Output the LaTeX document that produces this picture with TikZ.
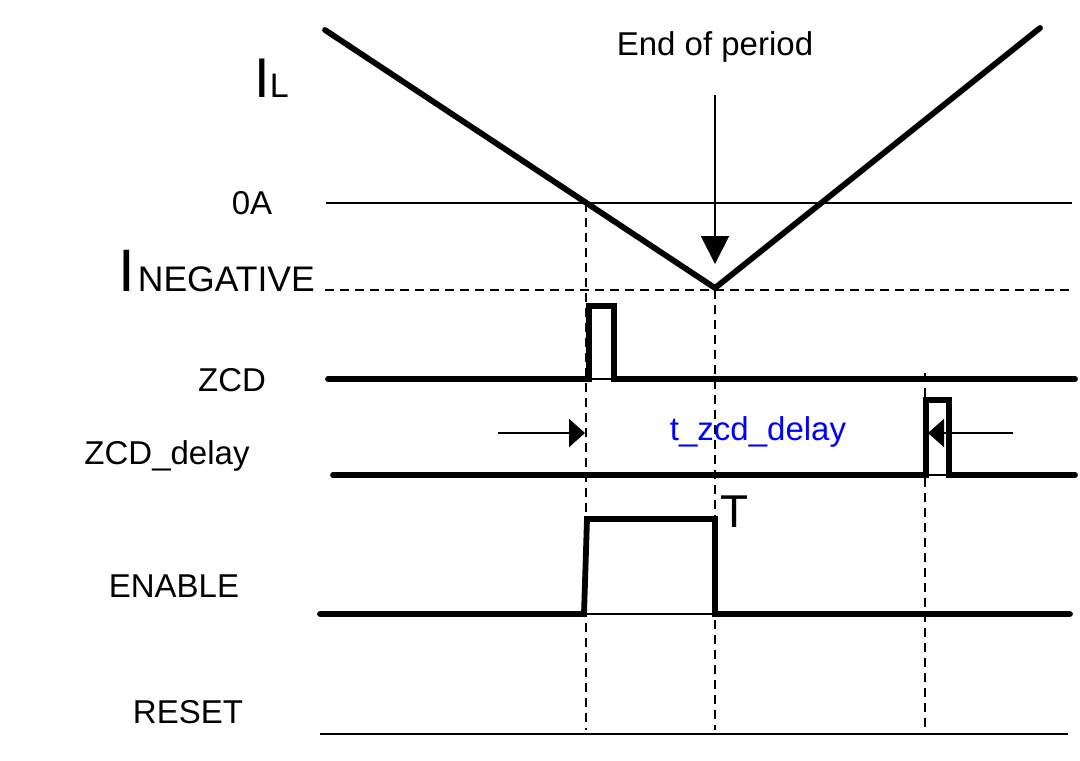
\documentclass[tikz,border=0pt]{standalone}
\usepackage{fontspec}
\setmainfont{Liberation Sans}
\usetikzlibrary{arrows.meta}
\begin{document}
\begin{tikzpicture}[x=1pt,y=-1pt,
  wave/.style={line width=5.8pt,line join=miter,line cap=round},
  thinln/.style={line width=1.5pt},
  guide/.style={line width=2.4pt,dash pattern=on 9pt off 6pt},
  lbl/.style={font=\fontsize{33}{40}\selectfont,inner sep=0pt},
  pointer/.style={line width=2.2pt,-{Triangle[length=16pt,width=28pt]}}]
\useasboundingbox (0,0) rectangle (1080,761);
% labels
\node[lbl,anchor=base west] (il) at (254,97) {\fontsize{56}{60}\selectfont I\fontsize{34}{40}\selectfont L};
\node[lbl] (zeroA) at (252,203) {0A};
\node[lbl,anchor=base east] (ineg) at (315,291) {\fontsize{60}{60}\selectfont I\kern3pt\fontsize{35.5}{40}\selectfont NEGATIVE};
\node[lbl] (zcdl) at (232,380) {ZCD};
\node[lbl] (zcddl) at (167,456) {ZCD\_delay};
\node[lbl] (enl) at (174,586) {ENABLE};
\node[lbl] (rstl) at (188,712) {RESET};
\node[lbl] (eop) at (715,47) {End of period};
\node[lbl,text=blue] (tzcd) at (758,432) {t\_zcd\_delay};
\node[lbl,font=\fontsize{46}{50}\selectfont] (T) at (735,512) {T};
% reference lines
\draw[thinln] (326,203) coordinate (za0) -- (1072,203) coordinate (za1);
\draw[guide] (325,290) coordinate (ng0) -- (1072,290) coordinate (ng1);
\draw[thinln] (320,734) coordinate (rs0) -- (1068,734) coordinate (rs1);
% vertical guides
\draw[guide] (586,203) coordinate (g1a) -- (586,730) coordinate (g1b);
\draw[guide] (715,290) coordinate (g2a) -- (715,730) coordinate (g2b);
\draw[guide] (925,373) coordinate (g3a) -- (925,730) coordinate (g3b);
% inductor current
\coordinate (i0) at (325,30);
\coordinate (imin) at (715,288);
\coordinate (i1) at (1040,28);
\draw[wave] (i0) -- (imin) -- (i1);
% end of period arrow
\coordinate (ea0) at (715,95);
\coordinate (ea1) at (715,264);
\draw[line width=2pt,-{Triangle[length=28pt,width=28pt]}] (ea0) -- (ea1);
% ZCD
\draw[thinln] (589,379) -- (614,379);
\draw[wave] (328,379) -- (589,379) -- (589,306) -- (614,306) -- (614,379) -- (1075,379);
% ZCD_delay
\draw[thinln] (926,475) -- (949,475);
\draw[wave] (333,475) -- (926,475) -- (926,400) -- (949,400) -- (949,475) -- (1075,475);
% delay arrows
\coordinate (da0) at (498,433);
\coordinate (da1) at (585,433);
\coordinate (db0) at (1013,433);
\coordinate (db1) at (928,433);
\draw[pointer] (da0) -- (da1);
\draw[pointer] (db0) -- (db1);
% ENABLE
\draw[thinln] (586,614) -- (715,614);
\draw[wave] (320,614) -- (584,614) -- (587,519) -- (715,519) -- (715,614) -- (1070,614);
\end{tikzpicture}
\end{document}
